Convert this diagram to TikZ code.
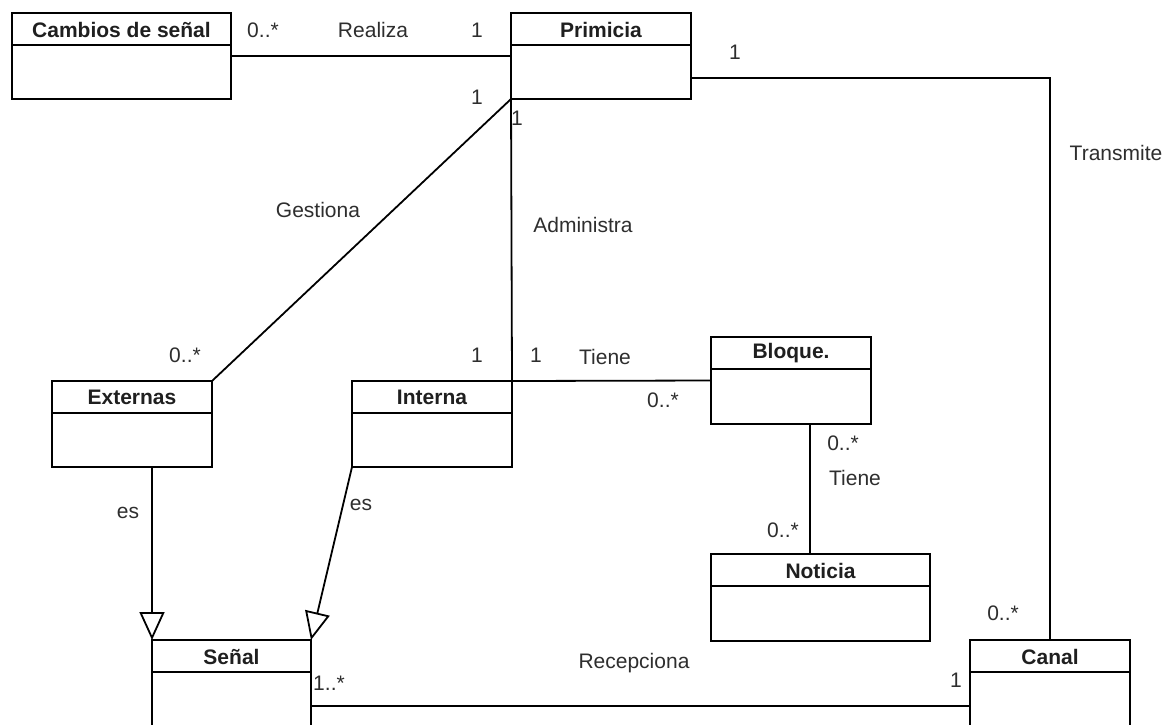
\documentclass[tikz,border=0pt]{standalone}
\usepackage{fontspec}
\setmainfont{Liberation Sans}
\usetikzlibrary{arrows.meta}

% UML class: name, left x, top y, width, height, title
\newcommand{\drawclass}[6]{%
  \node[classbox, minimum width=#4pt, minimum height=#5pt, anchor=north west] (#1) at (#2,#3) {};
  \draw[conn] ({#2},{#3+32}) -- ({#2+#4},{#3+32});
  \node[classtitle] at ({#2+#4/2},{#3+16.5}) {#6};
}

\begin{document}
\begin{tikzpicture}[x=1pt, y=-1pt,
  classbox/.style={draw=black, line width=1.8pt, inner sep=0pt, outer sep=0pt, fill=white},
  classtitle/.style={font=\fontsize{21}{24}\selectfont\bfseries, text=black!88, inner sep=0pt},
  conn/.style={draw=black, line width=1.8pt},
  lbl/.style={font=\fontsize{21}{24}\selectfont, text=black!82, inner sep=0pt},
  gen/.style={conn, -{Triangle[open, length=28pt, width=25pt, fill=white]}}
]
\fill[white] (0,0) rectangle (1175,724);
\useasboundingbox (0,0) rectangle (1175,724);
\clip (0,0) rectangle (1175,724);

% classes
\drawclass{cambios}{12}{13}{219}{86}{Cambios de señal}
\drawclass{primicia}{511}{13}{180}{86}{Primicia}
\drawclass{externas}{52}{381}{160}{86}{Externas}
\drawclass{interna}{352}{381}{160}{86}{Interna}
\drawclass{bloque}{711}{337}{160}{87}{Bloque.}
\drawclass{noticia}{711}{554}{219}{87}{Noticia}
\drawclass{senal}{152}{640}{159}{132}{Señal}
\drawclass{canal}{970}{640}{160}{132}{Canal}

% associations
\draw[conn] (cambios.east) -- (primicia.west);
\draw[conn] ([yshift=-22pt]primicia.east) -| (canal.north);
\draw[conn] (primicia.south west) -- (externas.north east);
\draw[conn] (primicia.south west) -- (interna.north east);
\draw[conn] (interna.north east) -- (bloque.west);
\draw[conn] ([xshift=19pt]bloque.south) -- ([xshift=19pt]bloque.south |- noticia.north);
\draw[conn] (senal.east) -- (canal.west);

% generalizations
\draw[gen] ([xshift=20pt]externas.south) -- (senal.north west);
\draw[gen] (interna.south west) -- (senal.north east);

% labels and multiplicities
\node[lbl] (m1) at (263,30) {0..*};
\node[lbl] (r1) at (373,30) {Realiza};
\node[lbl] (m2) at (477,30) {1};
\node[lbl] (m3) at (735,52) {1};
\node[lbl] (t1) at (1116,153) {Transmite};
\node[lbl] (m4) at (1003,613) {0..*};
\node[lbl] (m5) at (477,97) {1};
\node[lbl] (m6) at (517,118) {1};
\node[lbl] (g1) at (318,210) {Gestiona};
\node[lbl] (a1) at (583,225) {Administra};
\node[lbl] (m7) at (185,355) {0..*};
\node[lbl] (m8) at (477,355) {1};
\node[lbl] (m9) at (536,355) {1};
\node[lbl] (t2) at (605,357) {Tiene};
\node[lbl] (m10) at (663,400) {0..*};
\node[lbl] (m11) at (843,443) {0..*};
\node[lbl] (t3) at (855,478) {Tiene};
\node[lbl] (m12) at (783,530) {0..*};
\node[lbl] (e1) at (128,513) {es};
\node[lbl] (e2) at (361,505) {es};
\node[lbl] (m13) at (329,683) {1..*};
\node[lbl] (rc) at (634,663) {Recepciona};
\node[lbl] (m14) at (956,680) {1};
\end{tikzpicture}
\end{document}
